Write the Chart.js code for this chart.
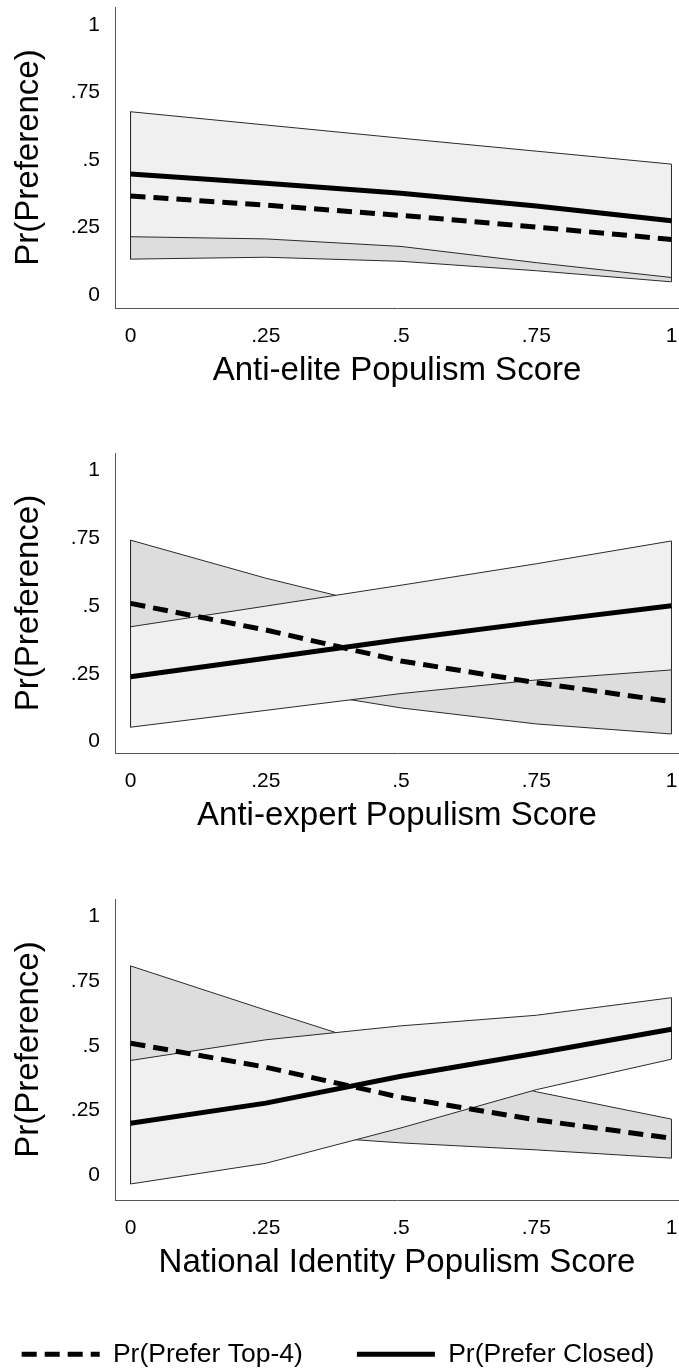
<!DOCTYPE html>
<html>
<head>
<meta charset="utf-8">
<script src="https://cdn.jsdelivr.net/npm/chart.js@4.4.0/dist/chart.umd.min.js"></script>
<style>
  html, body { margin: 0; padding: 0; background: #fff; overflow: hidden; }
  #wrap { position: relative; width: 679px; height: 1372px; overflow: hidden; }
  canvas { position: absolute; }
</style>
</head>
<body>
<div id="wrap">
  <canvas id="elite" width="679" height="440" style="left:0px;top:0px"></canvas>
  <canvas id="expert" width="679" height="450" style="left:0px;top:440px"></canvas>
  <canvas id="nation" width="679" height="482" style="left:0px;top:890px"></canvas>
  <canvas id="key" width="760" height="160" style="left:-42px;top:1287px"></canvas>
</div>
<script>
// x positions of the margins and the axis ticks
const xVals = [0, 0.25, 0.5, 0.75, 1];
const xTickVals = [0, 0.25, 0.5, 0.75, 1];
const xTickLabels = ['0', '.25', '.5', '.75', '1'];
const yTickVals = [0, 0.25, 0.5, 0.75, 1];
const yTickLabels = ['0', '.25', '.5', '.75', '1'];
const seriesNames = ['Pr(Prefer Top-4)', 'Pr(Prefer Closed)'];
const yTitle = 'Pr(Preference)';

// Anti-elite panel
const eliteTop4 = [0.367, 0.333, 0.295, 0.252, 0.206];
const eliteTop4Lo = [0.133, 0.14, 0.125, 0.09, 0.049];
const eliteTop4Hi = [0.60, 0.53, 0.47, 0.42, 0.38];
const eliteClosed = [0.448, 0.414, 0.377, 0.33, 0.275];
const eliteClosedLo = [0.216, 0.208, 0.18, 0.12, 0.065];
const eliteClosedHi = [0.679, 0.63, 0.581, 0.533, 0.485];

// Anti-expert panel
const expertTop4 = [0.509, 0.411, 0.297, 0.217, 0.147];
const expertTop4Lo = [0.30, 0.205, 0.124, 0.065, 0.028];
const expertTop4Hi = [0.742, 0.602, 0.48, 0.38, 0.30];
const expertClosed = [0.239, 0.307, 0.376, 0.44, 0.50];
const expertClosedLo = [0.053, 0.115, 0.177, 0.227, 0.264];
const expertClosedHi = [0.423, 0.499, 0.576, 0.655, 0.739];

// National identity panel
const nationTop4 = [0.51, 0.417, 0.30, 0.213, 0.142];
const nationTop4Lo = [0.20, 0.16, 0.124, 0.097, 0.065];
const nationTop4Hi = [0.809, 0.638, 0.47, 0.322, 0.216];
const nationClosed = [0.20, 0.278, 0.382, 0.471, 0.564];
const nationClosedLo = [-0.035, 0.045, 0.182, 0.33, 0.448];
const nationClosedHi = [0.443, 0.523, 0.577, 0.618, 0.686];

Chart.defaults.font.family = '"Liberation Sans", Arial, Helvetica, sans-serif';
Chart.defaults.color = '#000';

// closed outline of a confidence band: along the lower edge, back along the upper one
function bandShape(lo, hi) {
    const pts = xVals.map((x, i) => ({ x: x, y: lo[i] }));
    for (let i = xVals.length - 1; i >= 0; i--) pts.push({ x: xVals[i], y: hi[i] });
    pts.push({ x: xVals[0], y: lo[0] });
    return pts;
}

function meanLine(vals) {
    return xVals.map((x, i) => ({ x: x, y: vals[i] }));
}

function makePanel(id, p) {
    // first dataset is drawn last (on top)
    const datasets = [
        { label: seriesNames[1], data: meanLine(p.closed), borderColor: '#000', borderWidth: 5, pointRadius: 0, fill: false },
        { label: seriesNames[0], data: meanLine(p.top4), borderColor: '#000', borderWidth: 5, borderDash: [15, 8], pointRadius: 0, fill: false },
        { label: 'closed band', data: bandShape(p.closedLo, p.closedHi), borderColor: '#2a2a2a', borderWidth: 1, backgroundColor: '#f0f0f0', fill: 'shape', pointRadius: 0 },
        { label: 'top4 band', data: bandShape(p.top4Lo, p.top4Hi), borderColor: '#2a2a2a', borderWidth: 1, backgroundColor: '#dddddd', fill: 'shape', pointRadius: 0 }
    ];

    const ctx = document.getElementById(id).getContext('2d');
    new Chart(ctx, {
        type: 'line',
        data: { datasets: datasets },
        options: {
            responsive: false,
            animation: false,
            devicePixelRatio: 1,
            layout: {
                autoPadding: false,
                padding: { top: p.padTop, bottom: p.padBottom, left: 0, right: 0 }
            },
            plugins: {
                tooltip: { enabled: false },
                legend: { display: false }
            },
            scales: {
                x: {
                    type: 'linear',
                    min: -0.0287,
                    max: 1.0139,
                    grid: { display: false, drawTicks: false },
                    border: { display: true, color: '#555', width: 1 },
                    afterBuildTicks: s => { s.ticks = xTickVals.map(v => ({ value: v })); },
                    afterFit: s => { s.height = 92; s.paddingLeft = 0; s.paddingRight = 0; },
                    ticks: {
                        padding: 16,
                        maxRotation: 0,
                        font: { size: 21 },
                        color: '#000',
                        callback: (v, i) => xTickLabels[i]
                    },
                    title: {
                        display: true,
                        text: p.title,
                        font: { size: 33 },
                        color: '#000',
                        padding: { top: 0, bottom: 9 }
                    }
                },
                y: {
                    min: p.yMin,
                    max: p.yMax,
                    grid: { display: false, drawTicks: false },
                    border: { display: true, color: '#555', width: 1 },
                    afterBuildTicks: s => { s.ticks = yTickVals.map(v => ({ value: v })); },
                    afterFit: s => { s.width = 115; s.paddingTop = 0; s.paddingBottom = 0; },
                    ticks: {
                        padding: 15,
                        font: { size: 21 },
                        color: '#000',
                        callback: (v, i) => yTickLabels[i]
                    },
                    title: {
                        display: true,
                        text: yTitle,
                        font: { size: 33 },
                        color: '#000',
                        padding: { top: 9, bottom: 0 }
                    }
                }
            }
        }
    });
}

// shared legend under the three panels
function makeKey(id) {
    const ctx = document.getElementById(id).getContext('2d');
    new Chart(ctx, {
        type: 'line',
        data: {
            datasets: [
                { label: seriesNames[0], data: [], borderColor: '#000', borderWidth: 5, borderDash: [15, 8] },
                { label: seriesNames[1], data: [], borderColor: '#000', borderWidth: 5 }
            ]
        },
        options: {
            responsive: false,
            animation: false,
            devicePixelRatio: 1,
            layout: { padding: 0 },
            scales: { x: { display: false }, y: { display: false } },
            plugins: {
                tooltip: { enabled: false },
                legend: {
                    display: true,
                    position: 'top',
                    labels: {
                        usePointStyle: true,
                        pointStyleWidth: 78,
                        padding: 54,
                        color: '#000',
                        font: { size: 26.5 },
                        generateLabels: () => [
                            { text: seriesNames[0], pointStyle: 'line', strokeStyle: '#000', fillStyle: '#000', lineWidth: 5, lineDash: [15, 8], hidden: false, datasetIndex: 0 },
                            { text: seriesNames[1], pointStyle: 'line', strokeStyle: '#000', fillStyle: '#000', lineWidth: 5, lineDash: [], hidden: false, datasetIndex: 1 }
                        ]
                    }
                }
            }
        }
    });
}

window.onload = function() {
    makePanel('elite', {
        title: 'Anti-elite Populism Score',
        top4: eliteTop4, top4Lo: eliteTop4Lo, top4Hi: eliteTop4Hi,
        closed: eliteClosed, closedLo: eliteClosedLo, closedHi: eliteClosedHi,
        yMin: -0.048, yMax: 1.067, padTop: 7, padBottom: 40
    });
    makePanel('expert', {
        title: 'Anti-expert Populism Score',
        top4: expertTop4, top4Lo: expertTop4Lo, top4Hi: expertTop4Hi,
        closed: expertClosed, closedLo: expertClosedLo, closedHi: expertClosedHi,
        yMin: -0.042, yMax: 1.063, padTop: 13, padBottom: 45
    });
    makePanel('nation', {
        title: 'National Identity Populism Score',
        top4: nationTop4, top4Lo: nationTop4Lo, top4Hi: nationTop4Hi,
        closed: nationClosed, closedLo: nationClosedLo, closedHi: nationClosedHi,
        yMin: -0.097, yMax: 1.068, padTop: 9, padBottom: 80
    });
    makeKey('key');
};
</script>
</body>
</html>
